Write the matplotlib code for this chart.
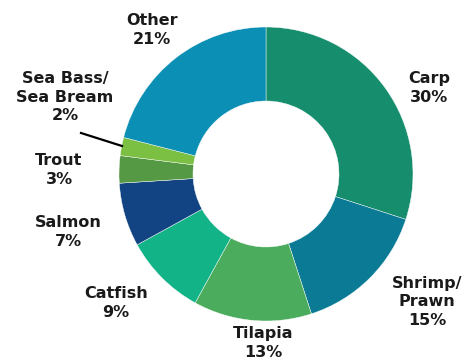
import matplotlib.pyplot as plt

species = ["Carp", "Shrimp/\nPrawn", "Tilapia", "Catfish", "Salmon", "Trout",
           "Sea Bass/\nSea Bream", "Other"]
shares = [30, 15, 13, 9, 7, 3, 2, 21]
colors = ["#168d6c", "#0a7a95", "#4aac5c", "#13b388", "#124483", "#569944",
          "#7bbf43", "#0b8fb5"]

# label centres relative to the pie centre (pixels)
label_pos = [(163, 86), (161, -128), (-3, -169), (-150, -129), (-198, -58),
             (-207, 4), (-201, 77), (-114, 144)]

W, H = 465, 364
cx, cy = 266, 174
R = 147

fig = plt.figure(figsize=(W / 100, H / 100), dpi=100)
ax = fig.add_axes([0, 0, 1, 1])

ax.pie(shares, colors=colors, startangle=90, counterclock=False, radius=R,
       wedgeprops=dict(width=R - 73, edgecolor="white", linewidth=0.3))

# pie() resets the limits, so set them afterwards
ax.set_xlim(-cx, W - cx)
ax.set_ylim(-(H - cy), cy)
ax.set_aspect("equal")
ax.axis("off")

for name, val, (x, y) in zip(species, shares, label_pos):
    ax.text(x, y, f"{name}\n{val}%", ha="center", va="center", fontsize=11.5,
            fontweight="bold", family="DejaVu Sans", linespacing=1.28,
            color="#1a1a1a")

# leader line for the small sea bass slice
ax.plot([81 - cx, 122 - cx], [cy - 133, cy - 146], color="black", lw=1.6)

fig.savefig("out.png", dpi=100)
